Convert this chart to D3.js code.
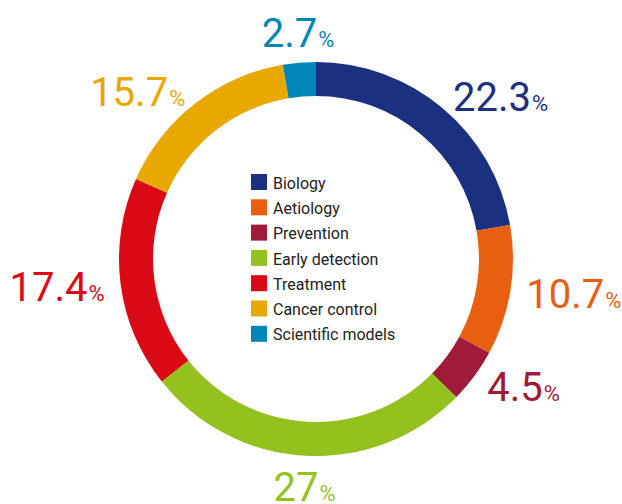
<!DOCTYPE html>
<html>
<head>
<meta charset="utf-8">
<script src="https://cdn.jsdelivr.net/npm/d3@7"></script>
<style>
  body { margin: 0; background: #fff; }
  svg { display: block; }
</style>
</head>
<body>
<div id="chart"></div>
<script>
// data
var categories = ["Biology", "Aetiology", "Prevention", "Early detection", "Treatment", "Cancer control", "Scientific models"];
var values = [22.3, 10.7, 4.5, 27, 17.4, 15.7, 2.7];
var labels = ["22.3", "10.7", "4.5", "27", "17.4", "15.7", "2.7"];
var colours = ["#1b3180", "#e8600f", "#a01a3a", "#95c11f", "#d90a16", "#e8a800", "#0086b8"];

var width = 622, height = 504;
var cx = 316, cy = 259;
var outerR = 197, innerR = 163, labelR = 213;

var dataset = categories.map(function(c, i) {
  return {name: c, value: values[i], label: labels[i]};
});

var color = d3.scaleOrdinal().domain(categories).range(colours);

var svg = d3.select("#chart")
  .append("svg")
    .attr("width", width)
    .attr("height", height);

var g = svg.append("g")
    .attr("transform", "translate(" + cx + "," + cy + ")");

var pie = d3.pie()
  .value(function(d) { return d.value; })
  .sort(null);

var arc = d3.arc()
  .innerRadius(innerR)
  .outerRadius(outerR);

var arcs = pie(dataset);

g.selectAll("path")
  .data(arcs)
  .join("path")
    .attr("d", arc)
    .attr("fill", function(d) { return color(d.data.name); });

// value labels around the ring
var lab = g.selectAll("text.value")
  .data(arcs)
  .join("text")
    .attr("class", "value")
    .attr("font-family", "Roboto, sans-serif")
    .attr("fill", function(d) { return color(d.data.name); })
    .attr("transform", function(d) {
      var mid = (d.startAngle + d.endAngle) / 2;
      var p = [Math.sin(mid) * labelR, -Math.cos(mid) * labelR];
      return "translate(" + p[0] + "," + p[1] + ")";
    })
    .attr("text-anchor", function(d) {
      var s = Math.sin((d.startAngle + d.endAngle) / 2);
      if (Math.abs(s) < 0.3) return "middle";
      return s > 0 ? "start" : "end";
    })
    .attr("dy", function(d) {
      var c = Math.cos((d.startAngle + d.endAngle) / 2);
      if (c > 0.9) return 0;
      if (c < -0.9) return 29;
      return 15;
    });

lab.append("tspan")
    .attr("font-size", 40)
    .text(function(d) { return d.data.label; });
lab.append("tspan")
    .attr("font-size", 22)
    .attr("dx", 1)
    .text("%");

// legend in the middle
var legend = svg.append("g")
    .attr("transform", "translate(251,174)");

var row = d3.scaleBand()
  .domain(categories)
  .range([0, 25.3 * categories.length]);

var items = legend.selectAll("g")
  .data(categories)
  .join("g")
    .attr("transform", function(d) { return "translate(0," + row(d) + ")"; });

items.append("rect")
    .attr("width", 16)
    .attr("height", 16)
    .attr("fill", function(d) { return color(d); });

items.append("text")
    .attr("x", 22)
    .attr("y", 9)
    .attr("dy", "0.35em")
    .attr("font-family", "Roboto, sans-serif")
    .attr("font-size", 16)
    .attr("fill", "#222")
    .text(function(d) { return d; });
</script>
</body>
</html>
